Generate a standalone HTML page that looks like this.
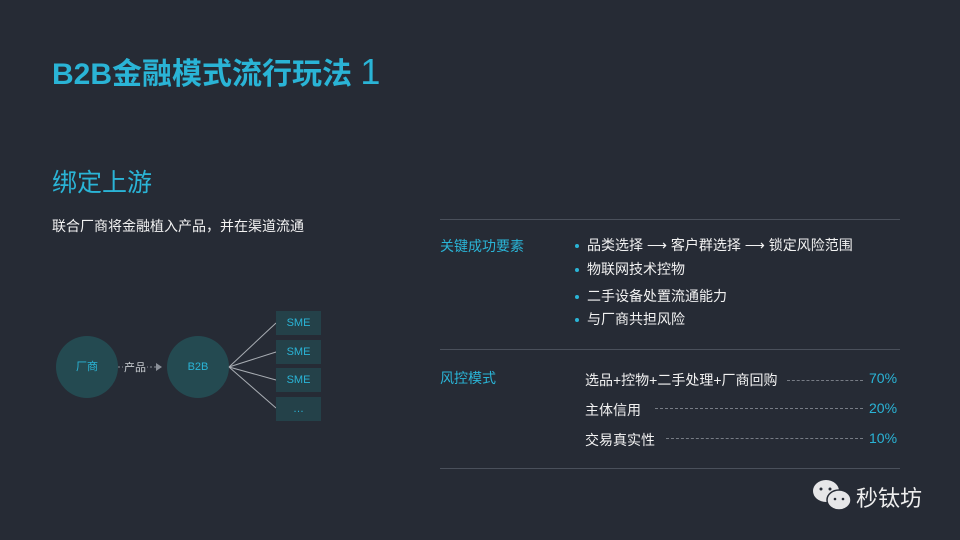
<!DOCTYPE html>
<html><head><meta charset="utf-8"><style>
body{margin:0;width:960px;height:540px;background:#262b35;overflow:hidden;position:relative;font-family:"Liberation Sans","Noto Sans CJK SC",sans-serif;}
.a{position:absolute;white-space:nowrap;}
.c{color:#2ab4d6;}
.w{color:#f2f2f2;}
.hr{position:absolute;left:440px;width:460px;height:1px;background:#4a505b;}
.dot{display:inline-block;width:4px;height:4px;border-radius:50%;background:#2ab4d6;margin-right:8px;vertical-align:middle;}
.dash{position:absolute;height:0;border-top:1px dashed #777c85;}
.sme{position:absolute;left:276px;width:45px;height:24px;background:#244149;color:#2ab4d6;font-size:11px;text-align:center;line-height:24px;}
.circ{position:absolute;width:62px;height:62px;border-radius:50%;background:#244a51;color:#2ab4d6;font-size:11px;text-align:center;line-height:62px;}
</style></head><body>
<div class="a c" style="left:52px;top:49px;font-size:30px;font-weight:bold;">B2B金融模式流行玩法 <span style="font-weight:normal;font-size:36px;">1</span></div>
<div class="a c" style="left:52px;top:163px;font-size:25px;">绑定上游</div>
<div class="a w" style="left:52px;top:216px;font-size:14px;">联合厂商将金融植入产品，并在渠道流通</div>

<div class="circ" style="left:56px;top:336px;">厂商</div>
<div class="circ" style="left:167px;top:336px;">B2B</div>
<svg class="a" style="left:0;top:0" width="960" height="540">
<line x1="118" y1="367" x2="157" y2="367" stroke="#8a8f98" stroke-dasharray="2,2"/>
<polygon points="156,363 162,367 156,371" fill="#8a8f98"/>
<g stroke="#a8adb3" stroke-width="1">
<line x1="229" y1="367" x2="276" y2="323"/>
<line x1="229" y1="367" x2="276" y2="352"/>
<line x1="229" y1="367" x2="276" y2="380"/>
<line x1="229" y1="367" x2="276" y2="408"/>
</g>
</svg>
<div class="a" style="left:123px;top:359px;font-size:11px;background:#262b35;padding:0 1px;color:#c8ccd0;">产品</div>
<div class="sme" style="top:311px;">SME</div>
<div class="sme" style="top:340px;">SME</div>
<div class="sme" style="top:368px;">SME</div>
<div class="sme" style="top:397px;">…</div>

<div class="hr" style="top:219px;"></div>
<div class="hr" style="top:349px;"></div>
<div class="hr" style="top:468px;"></div>

<div class="a c" style="left:440px;top:236px;font-size:14px;">关键成功要素</div>
<div class="a w" style="left:575px;top:235px;font-size:14px;"><span class="dot"></span>品类选择 ⟶ 客户群选择 ⟶ 锁定风险范围</div>
<div class="a w" style="left:575px;top:259px;font-size:14px;"><span class="dot"></span>物联网技术控物</div>
<div class="a w" style="left:575px;top:286px;font-size:14px;"><span class="dot"></span>二手设备处置流通能力</div>
<div class="a w" style="left:575px;top:309px;font-size:14px;"><span class="dot"></span>与厂商共担风险</div>

<div class="a c" style="left:440px;top:368px;font-size:14px;">风控模式</div>
<div class="a w" style="left:585px;top:370px;font-size:14px;">选品+控物+二手处理+厂商回购</div>
<div class="a w" style="left:585px;top:400px;font-size:14px;">主体信用</div>
<div class="a w" style="left:585px;top:430px;font-size:14px;">交易真实性</div>
<div class="dash" style="left:787px;width:76px;top:380px;"></div>
<div class="dash" style="left:655px;width:208px;top:408px;"></div>
<div class="dash" style="left:666px;width:197px;top:438px;"></div>
<div class="a c" style="left:869px;top:370px;font-size:14px;">70%</div>
<div class="a c" style="left:869px;top:400px;font-size:14px;">20%</div>
<div class="a c" style="left:869px;top:430px;font-size:14px;">10%</div>

<svg class="a" style="left:810px;top:478px" width="45" height="36">
<ellipse cx="16" cy="13" rx="13" ry="11" fill="#e6e6e8"/>
<ellipse cx="29" cy="22" rx="12" ry="10" fill="#e6e6e8" stroke="#262b35" stroke-width="1.5"/>
<circle cx="11" cy="11" r="1.5" fill="#262b35"/><circle cx="20" cy="11" r="1.5" fill="#262b35"/>
<circle cx="25" cy="21" r="1.3" fill="#262b35"/><circle cx="33" cy="21" r="1.3" fill="#262b35"/>
</svg>
<div class="a" style="left:856px;top:481px;font-size:22px;color:#eee;">秒钛坊</div>
</body></html>
